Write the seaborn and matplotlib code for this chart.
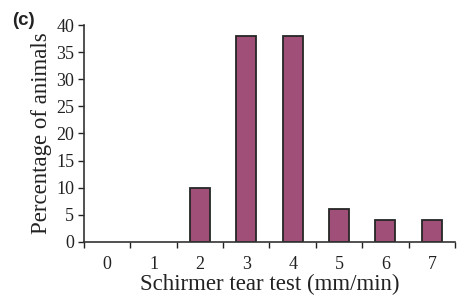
import matplotlib
matplotlib.use("Agg")
import matplotlib.pyplot as plt
import seaborn as sns
import pandas as pd
import numpy as np

categories = ["0", "1", "2", "3", "4", "5", "6", "7"]
percentages = [0, 0, 10, 38, 38, 6, 4, 4]

sns.set_style("ticks")
plt.rcParams['font.family'] = ['Liberation Serif', 'DejaVu Serif']

df = pd.DataFrame({"cat": categories, "pct": percentages})

fig = plt.figure(figsize=(4.61, 2.95), dpi=100)
ax = fig.add_axes([0.182, 0.180, 0.805, 0.735])
sns.barplot(data=df, x="cat", y="pct", ax=ax, color="#A05078", saturation=1,
            width=0.43, edgecolor="#262626", linewidth=1.3)
for p in ax.patches:
    if p.get_height() == 0:
        p.set_linewidth(0)

ax.set_xlim(-0.5, len(categories) - 0.5)
ax.set_ylim(0, 40)
ax.set_yticks(np.arange(0, 41, 5))
ax.set_xticks(np.arange(-0.5, len(categories), 1), minor=True)
ax.tick_params(axis="x", which="major", length=0, labelsize=13, pad=10, colors="#222222")
ax.tick_params(axis="x", which="minor", length=4, width=1, direction="out", color="#222222")
ax.tick_params(axis="y", length=4, width=1, labelsize=13, pad=3, colors="#222222")
for s in ["top", "right"]:
    ax.spines[s].set_visible(False)
for s in ["left", "bottom"]:
    ax.spines[s].set_linewidth(1.2)
    ax.spines[s].set_color("#333333")

ax.set_xlabel("Schirmer tear test (mm/min)", fontsize=16.5, labelpad=1, color="#222222")
ax.set_ylabel("Percentage of animals", fontsize=16.5, labelpad=3, color="#222222")

fig.text(0.026, 0.915, "(c)", fontsize=13.5, fontweight="bold",
         family=["Liberation Sans", "DejaVu Sans"], color="#222222")

fig.savefig("out.png", dpi=100)
